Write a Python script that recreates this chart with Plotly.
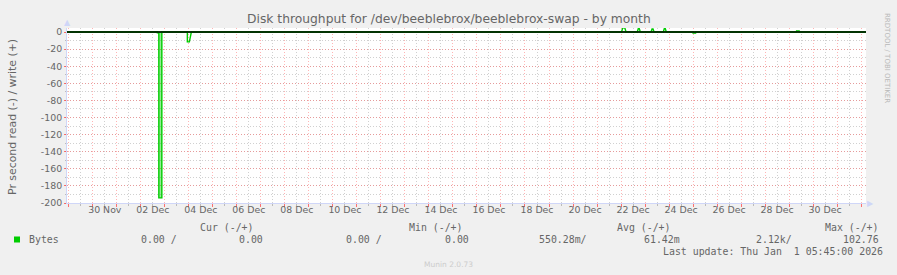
import plotly.graph_objects as go

# ---------------- data ----------------
read_times = ["2025-11-28 22:00", "2025-12-02 16:30", "2025-12-02 16:30", "2025-12-02 18:00",
              "2025-12-02 18:00", "2025-12-02 21:00", "2025-12-02 21:00", "2025-12-03 22:30",
              "2025-12-03 22:30", "2025-12-04 00:30", "2025-12-04 02:30", "2025-12-25 00:00",
              "2025-12-25 00:00", "2025-12-25 02:30", "2025-12-25 02:30", "2026-01-01 06:00"]
read_values = [0, 0, -1, -1, -194, -194, 0, 0, -11.5, -11.5, 0, 0, -1.2, -1.2, 0, 0]

write_times = ["2025-11-28 22:00", "2025-12-22 00:30", "2025-12-22 01:45", "2025-12-22 03:45",
               "2025-12-22 05:00", "2025-12-22 16:15", "2025-12-22 17:15", "2025-12-22 18:15",
               "2025-12-22 19:15", "2025-12-23 06:00", "2025-12-23 07:00", "2025-12-23 08:00",
               "2025-12-23 09:00", "2025-12-23 18:15", "2025-12-23 19:15", "2025-12-23 20:15",
               "2025-12-23 21:15", "2025-12-29 07:30", "2025-12-29 07:30", "2025-12-29 10:00",
               "2025-12-29 10:00", "2026-01-01 06:00"]
write_values = [0, 0, 5, 5, 0, 0, 4, 4, 0, 0, 3.6, 3.6, 0, 0, 4, 4, 0, 0, 1.2, 1.2, 0, 0]

x_label_days = ["2025-11-30", "2025-12-02", "2025-12-04", "2025-12-06", "2025-12-08",
                "2025-12-10", "2025-12-12", "2025-12-14", "2025-12-16", "2025-12-18",
                "2025-12-20", "2025-12-22", "2025-12-24", "2025-12-26", "2025-12-28",
                "2025-12-30"]
x_label_text = ["30 Nov", "02 Dec", "04 Dec", "06 Dec", "08 Dec", "10 Dec", "12 Dec", "14 Dec",
                "16 Dec", "18 Dec", "20 Dec", "22 Dec", "24 Dec", "26 Dec", "28 Dec", "30 Dec"]
y_ticks = [0, -20, -40, -60, -80, -100, -120, -140, -160, -180, -200]

legend_headers = ["Cur (-/+)", "Min (-/+)", "Avg (-/+)", "Max (-/+)"]
legend_values = ["0.00 /", "0.00", "0.00 /", "0.00", "550.28m/", "61.42m", "2.12k/", "102.76"]

x_range = ["2025-11-28 22:12", "2026-01-01 04:52"]
y_range = [-200, 4.7]

# ---------------- layout helpers ----------------
W, H = 897, 275
L, R, T, B = 67, 866, 28, 203


def px(x):
    return (x - L) / (R - L)


def py(y):
    return (B - y) / (B - T)


GREEN = "#00CC00"
FONT = "#666666"
MGRID = "rgba(255,90,90,0.45)"
GRID = "rgba(170,170,170,0.55)"
AXIS = "#CFD6F8"

fig = go.Figure()
# light fill inside the big read spike
fig.add_trace(go.Scatter(x=read_times[3:7], y=read_values[3:7], mode="lines",
                         line=dict(width=0), fill="tozeroy",
                         fillcolor="rgba(0,204,0,0.42)", hoverinfo="skip",
                         showlegend=False, xaxis="x", yaxis="y"))
fig.add_trace(go.Scatter(x=read_times, y=read_values, mode="lines",
                         line=dict(color=GREEN, width=1.4), hoverinfo="skip",
                         showlegend=False, xaxis="x", yaxis="y"))
fig.add_trace(go.Scatter(x=write_times, y=write_values, mode="lines",
                         line=dict(color=GREEN, width=1.4), hoverinfo="skip",
                         showlegend=False, xaxis="x2", yaxis="y"))

fig.update_layout(
    width=W, height=H,
    margin=dict(l=L, r=W - R, t=T, b=H - B),
    paper_bgcolor="#F0F0F0", plot_bgcolor="#FFFFFF",
    xaxis=dict(
        type="date", range=x_range, tickmode="linear", tick0="2025-11-29",
        dtick=86400000, showticklabels=False,
        showgrid=True, gridcolor=MGRID, gridwidth=1, griddash="1px,2px",
        ticks="outside", ticklen=3, tickcolor="rgba(255,80,80,0.8)",
        minor=dict(dtick=43200000, tick0="2025-11-29 12:00", showgrid=True,
                   gridcolor=GRID, griddash="1px,2px", gridwidth=1,
                   ticks="outside", ticklen=2, tickcolor="#BBBBBB"),
        showline=True, linecolor=AXIS, linewidth=1, zeroline=False,
    ),
    xaxis2=dict(
        type="date", range=x_range, overlaying="x", anchor="y", side="bottom",
        tickmode="array", tickvals=[d + " 12:00" for d in x_label_days], ticktext=x_label_text,
        showgrid=False, ticks="", showline=False, zeroline=False,
        tickfont=dict(family="DejaVu Sans", size=9.4, color=FONT),
    ),
    yaxis=dict(
        range=y_range, tickmode="array", tickvals=y_ticks, ticktext=[str(v) for v in y_ticks],
        showgrid=True, gridcolor=MGRID, gridwidth=1, griddash="1px,2px",
        ticks="outside", ticklen=2, tickcolor="rgba(255,80,80,0.8)",
        minor=dict(dtick=10, tick0=0, showgrid=True, gridcolor=GRID, griddash="1px,2px",
                   gridwidth=1, ticks="outside", ticklen=1, tickcolor="#BBBBBB"),
        showline=True, linecolor=AXIS, linewidth=1, zeroline=False,
        tickfont=dict(family="DejaVu Sans", size=9.4, color=FONT),
    ),
    font=dict(family="DejaVu Sans", color=FONT),
)

# zero line on top (HRULE)
fig.add_shape(type="line", xref="paper", yref="y", x0=0, x1=1, y0=0, y1=0,
              line=dict(color="#000000", width=1.6), layer="above")

anns = []
anns.append(dict(text="Disk throughput for /dev/beeblebrox/beeblebrox-swap - by month",
                 x=px(448.5), y=py(19), xanchor="center", yanchor="middle",
                 font=dict(family="DejaVu Sans", size=12.3, color=FONT)))
anns.append(dict(text="Pr second read (-) / write (+)", x=px(12), y=py(117),
                 xanchor="center", yanchor="middle", textangle=-90,
                 font=dict(family="DejaVu Sans", size=10.9, color=FONT)))
anns.append(dict(text="RRDTOOL / TOBI OETIKER", x=px(887), y=py(58), xanchor="center",
                 yanchor="middle", textangle=90,
                 font=dict(family="DejaVu Sans", size=7, color="#B8B8B8")))
anns.append(dict(text="▲", x=px(67), y=py(22), xanchor="center", yanchor="middle",
                 font=dict(size=8, color=AXIS)))
anns.append(dict(text="▶", x=px(870), y=py(203), xanchor="center", yanchor="middle",
                 font=dict(size=8, color=AXIS)))

MONO = "DejaVu Sans Mono"
LS = 9.9
header_x = [198, 407, 615, 822.7]
for hx, txt in zip(header_x, legend_headers):
    anns.append(dict(text=txt.replace(" ", "\u00a0"), x=px(hx), y=py(227.7), xanchor="left",
                     yanchor="middle", font=dict(family=MONO, size=LS, color=FONT)))
anns.append(dict(text="Bytes", x=px(27), y=py(239.5), xanchor="left", yanchor="middle",
                 font=dict(family=MONO, size=LS, color=FONT)))
value_x = [139, 237, 344, 443.3, 537.3, 642.3, 754.3, 841]
for vx, txt in zip(value_x, legend_values):
    anns.append(dict(text=txt.replace(" ", "\u00a0"), x=px(vx), y=py(239.5), xanchor="left",
                     yanchor="middle", font=dict(family=MONO, size=LS, color=FONT)))
anns.append(dict(text="Last update: Thu Jan  1 05:45:00 2026".replace(" ", "\u00a0"),
                 x=px(661), y=py(251.7), xanchor="left", yanchor="middle",
                 font=dict(family=MONO, size=LS, color=FONT)))
anns.append(dict(text="Munin 2.0.73", x=px(448), y=py(264), xanchor="center",
                 yanchor="middle", font=dict(family="DejaVu Sans", size=7.5, color="#CCCCCC")))

for a in anns:
    a.update(xref="paper", yref="paper", showarrow=False)
fig.update_layout(annotations=anns)

fig.add_shape(type="rect", xref="paper", yref="paper", x0=px(14), x1=px(20),
              y0=py(242.5), y1=py(236.5), fillcolor=GREEN, line=dict(width=0))

fig.write_html("out.html")
